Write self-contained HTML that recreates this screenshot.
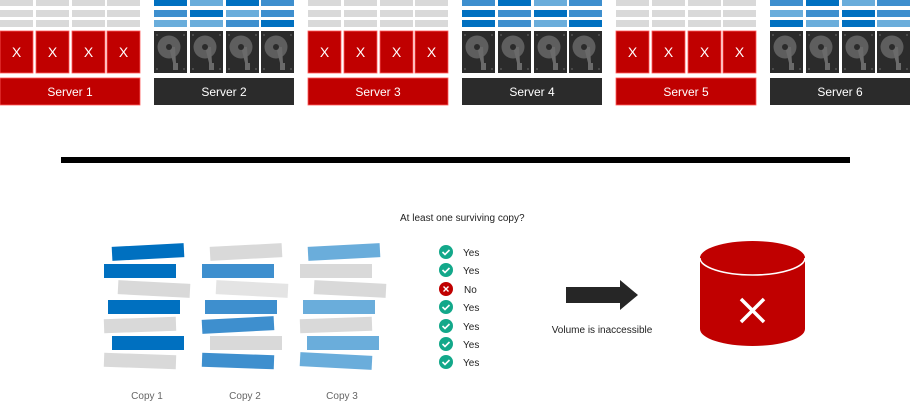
<!DOCTYPE html>
<html><head><meta charset="utf-8"><style>
html,body{margin:0;padding:0;background:#fff;width:910px;height:408px;overflow:hidden}
svg{display:block;font-family:"Liberation Sans","DejaVu Sans",sans-serif}
</style></head><body>
<svg width="910" height="408" viewBox="0 0 910 408" xmlns="http://www.w3.org/2000/svg">
<defs>
<g id="disk">
<rect x="0" y="0" width="33" height="42" fill="#2b2b2b"/>
<circle cx="3" cy="4" r="1" fill="#555"/><circle cx="30" cy="4" r="1" fill="#555"/>
<circle cx="3" cy="38" r="1" fill="#555"/><circle cx="30" cy="38" r="1" fill="#555"/>
<circle cx="15" cy="16" r="11.5" fill="#5e5e5e"/>
<path d="M15 16 L21 16 L22 32 L24 32 L24 39 L19 39 L19 32 Z" fill="#6a6a6a"/>
<circle cx="15" cy="16" r="3" fill="#2b2b2b"/>
</g>
<g id="xdisk">
<rect x="0" y="0" width="33" height="42" fill="#c00000" stroke="#ff5a5a" stroke-width="0.8"/>
<text x="16.5" y="26" font-size="14" fill="#fff" text-anchor="middle">X</text>
</g>
</defs>
<!-- servers -->
<g id="servers">
<!-- Server 1 -->
<g transform="translate(0,0)">
<g fill="#d9d9d9"><rect x="0" y="0" width="33" height="6"/><rect x="36" y="0" width="33" height="6"/><rect x="72" y="0" width="33" height="6"/><rect x="107" y="0" width="33" height="6"/>
<rect x="0" y="10" width="33" height="7"/><rect x="36" y="10" width="33" height="7"/><rect x="72" y="10" width="33" height="7"/><rect x="107" y="10" width="33" height="7"/>
<rect x="0" y="20" width="33" height="7"/><rect x="36" y="20" width="33" height="7"/><rect x="72" y="20" width="33" height="7"/><rect x="107" y="20" width="33" height="7"/></g>
<use href="#xdisk" x="0" y="31"/><use href="#xdisk" x="36" y="31"/><use href="#xdisk" x="72" y="31"/><use href="#xdisk" x="107" y="31"/>
<rect x="0" y="78" width="140" height="27" fill="#c00000" stroke="#ff5a5a" stroke-width="0.8"/>
<text x="70" y="96" font-size="12" fill="#fff" text-anchor="middle">Server 1</text>
</g>
<!-- Server 2 -->
<g transform="translate(154,0)">
<rect x="0" y="0" width="33" height="6" fill="#0070c0"/><rect x="36" y="0" width="33" height="6" fill="#6aaddb"/><rect x="72" y="0" width="33" height="6" fill="#0070c0"/><rect x="107" y="0" width="33" height="6" fill="#3e8fce"/>
<rect x="0" y="10" width="33" height="7" fill="#3e8fce"/><rect x="36" y="10" width="33" height="7" fill="#0070c0"/><rect x="72" y="10" width="33" height="7" fill="#6aaddb"/><rect x="107" y="10" width="33" height="7" fill="#3e8fce"/>
<rect x="0" y="20" width="33" height="7" fill="#6aaddb"/><rect x="36" y="20" width="33" height="7" fill="#6aaddb"/><rect x="72" y="20" width="33" height="7" fill="#3e8fce"/><rect x="107" y="20" width="33" height="7" fill="#0070c0"/>
<use href="#disk" x="0" y="31"/><use href="#disk" x="36" y="31"/><use href="#disk" x="72" y="31"/><use href="#disk" x="107" y="31"/>
<rect x="0" y="78" width="140" height="27" fill="#2b2b2b"/>
<text x="70" y="96" font-size="12" fill="#fff" text-anchor="middle">Server 2</text>
</g>
<!-- Server 3 -->
<g transform="translate(308,0)">
<g fill="#d9d9d9"><rect x="0" y="0" width="33" height="6"/><rect x="36" y="0" width="33" height="6"/><rect x="72" y="0" width="33" height="6"/><rect x="107" y="0" width="33" height="6"/>
<rect x="0" y="10" width="33" height="7"/><rect x="36" y="10" width="33" height="7"/><rect x="72" y="10" width="33" height="7"/><rect x="107" y="10" width="33" height="7"/>
<rect x="0" y="20" width="33" height="7"/><rect x="36" y="20" width="33" height="7"/><rect x="72" y="20" width="33" height="7"/><rect x="107" y="20" width="33" height="7"/></g>
<use href="#xdisk" x="0" y="31"/><use href="#xdisk" x="36" y="31"/><use href="#xdisk" x="72" y="31"/><use href="#xdisk" x="107" y="31"/>
<rect x="0" y="78" width="140" height="27" fill="#c00000" stroke="#ff5a5a" stroke-width="0.8"/>
<text x="70" y="96" font-size="12" fill="#fff" text-anchor="middle">Server 3</text>
</g>
<!-- Server 4 -->
<g transform="translate(462,0)">
<rect x="0" y="0" width="33" height="6" fill="#3e8fce"/><rect x="36" y="0" width="33" height="6" fill="#0070c0"/><rect x="72" y="0" width="33" height="6" fill="#6aaddb"/><rect x="107" y="0" width="33" height="6" fill="#3e8fce"/>
<rect x="0" y="10" width="33" height="7" fill="#0070c0"/><rect x="36" y="10" width="33" height="7" fill="#3e8fce"/><rect x="72" y="10" width="33" height="7" fill="#0070c0"/><rect x="107" y="10" width="33" height="7" fill="#3e8fce"/>
<rect x="0" y="20" width="33" height="7" fill="#0070c0"/><rect x="36" y="20" width="33" height="7" fill="#3e8fce"/><rect x="72" y="20" width="33" height="7" fill="#6aaddb"/><rect x="107" y="20" width="33" height="7" fill="#0070c0"/>
<use href="#disk" x="0" y="31"/><use href="#disk" x="36" y="31"/><use href="#disk" x="72" y="31"/><use href="#disk" x="107" y="31"/>
<rect x="0" y="78" width="140" height="27" fill="#2b2b2b"/>
<text x="70" y="96" font-size="12" fill="#fff" text-anchor="middle">Server 4</text>
</g>
<!-- Server 5 -->
<g transform="translate(616,0)">
<g fill="#d9d9d9"><rect x="0" y="0" width="33" height="6"/><rect x="36" y="0" width="33" height="6"/><rect x="72" y="0" width="33" height="6"/><rect x="107" y="0" width="33" height="6"/>
<rect x="0" y="10" width="33" height="7"/><rect x="36" y="10" width="33" height="7"/><rect x="72" y="10" width="33" height="7"/><rect x="107" y="10" width="33" height="7"/>
<rect x="0" y="20" width="33" height="7"/><rect x="36" y="20" width="33" height="7"/><rect x="72" y="20" width="33" height="7"/><rect x="107" y="20" width="33" height="7"/></g>
<use href="#xdisk" x="0" y="31"/><use href="#xdisk" x="36" y="31"/><use href="#xdisk" x="72" y="31"/><use href="#xdisk" x="107" y="31"/>
<rect x="0" y="78" width="140" height="27" fill="#c00000" stroke="#ff5a5a" stroke-width="0.8"/>
<text x="70" y="96" font-size="12" fill="#fff" text-anchor="middle">Server 5</text>
</g>
<!-- Server 6 -->
<g transform="translate(770,0)">
<rect x="0" y="0" width="33" height="6" fill="#3e8fce"/><rect x="36" y="0" width="33" height="6" fill="#0070c0"/><rect x="72" y="0" width="33" height="6" fill="#6aaddb"/><rect x="107" y="0" width="33" height="6" fill="#3e8fce"/>
<rect x="0" y="10" width="33" height="7" fill="#6aaddb"/><rect x="36" y="10" width="33" height="7" fill="#3e8fce"/><rect x="72" y="10" width="33" height="7" fill="#0070c0"/><rect x="107" y="10" width="33" height="7" fill="#3e8fce"/>
<rect x="0" y="20" width="33" height="7" fill="#0070c0"/><rect x="36" y="20" width="33" height="7" fill="#6aaddb"/><rect x="72" y="20" width="33" height="7" fill="#0070c0"/><rect x="107" y="20" width="33" height="7" fill="#6aaddb"/>
<use href="#disk" x="0" y="31"/><use href="#disk" x="36" y="31"/><use href="#disk" x="72" y="31"/><use href="#disk" x="107" y="31"/>
<rect x="0" y="78" width="140" height="27" fill="#2b2b2b"/>
<text x="70" y="96" font-size="12" fill="#fff" text-anchor="middle">Server 6</text>
</g>
</g>
<!-- divider -->
<rect x="61" y="157" width="789" height="6" fill="#000"/>
<!-- copy 1 -->
<g>
<rect x="112" y="245" width="72" height="14" fill="#0070c0" transform="rotate(-3 148 252)"/>
<rect x="104" y="264" width="72" height="14" fill="#0070c0"/>
<rect x="118" y="282" width="72" height="14" fill="#d9d9d9" transform="rotate(3 154 289)"/>
<rect x="108" y="300" width="72" height="14" fill="#0070c0"/>
<rect x="104" y="318" width="72" height="14" fill="#d9d9d9" transform="rotate(-2 140 325)"/>
<rect x="112" y="336" width="72" height="14" fill="#0070c0"/>
<rect x="104" y="354" width="72" height="14" fill="#d9d9d9" transform="rotate(2 140 361)"/>
</g>
<!-- copy 2 -->
<g>
<rect x="210" y="245" width="72" height="14" fill="#d9d9d9" transform="rotate(-3 246 252)"/>
<rect x="202" y="264" width="72" height="14" fill="#3e8fce"/>
<rect x="216" y="282" width="72" height="14" fill="#e4e4e4" transform="rotate(3 252 289)"/>
<rect x="205" y="300" width="72" height="14" fill="#3e8fce"/>
<rect x="202" y="318" width="72" height="14" fill="#3e8fce" transform="rotate(-3 238 325)"/>
<rect x="210" y="336" width="72" height="14" fill="#d9d9d9"/>
<rect x="202" y="354" width="72" height="14" fill="#3e8fce" transform="rotate(2 238 361)"/>
</g>
<!-- copy 3 -->
<g>
<rect x="308" y="245" width="72" height="14" fill="#6aaddb" transform="rotate(-3 344 252)"/>
<rect x="300" y="264" width="72" height="14" fill="#d9d9d9"/>
<rect x="314" y="282" width="72" height="14" fill="#d9d9d9" transform="rotate(3 350 289)"/>
<rect x="303" y="300" width="72" height="14" fill="#6aaddb"/>
<rect x="300" y="318" width="72" height="14" fill="#d9d9d9" transform="rotate(-2 336 325)"/>
<rect x="307" y="336" width="72" height="14" fill="#6aaddb"/>
<rect x="300" y="354" width="72" height="14" fill="#6aaddb" transform="rotate(3 336 361)"/>
</g>
<g font-size="10" fill="#666" text-anchor="middle">
<text x="147" y="399">Copy 1</text><text x="245" y="399">Copy 2</text><text x="342" y="399">Copy 3</text>
</g>
<text x="400" y="221" font-size="10" fill="#222">At least one surviving copy?</text>
<!-- checks -->
<g font-size="10" fill="#222">
<g transform="translate(446,252)"><circle r="7" fill="#13a88a"/><path d="M-3.5 0 L-1 2.5 L3.5 -2" stroke="#fff" stroke-width="1.6" fill="none"/></g><text x="463" y="256">Yes</text>
<g transform="translate(446,270)"><circle r="7" fill="#13a88a"/><path d="M-3.5 0 L-1 2.5 L3.5 -2" stroke="#fff" stroke-width="1.6" fill="none"/></g><text x="463" y="274">Yes</text>
<g transform="translate(446,289)"><circle r="7" fill="#c00000"/><path d="M-2.5 -2.5 L2.5 2.5 M2.5 -2.5 L-2.5 2.5" stroke="#fff" stroke-width="1.4"/></g><text x="464" y="293">No</text>
<g transform="translate(446,307)"><circle r="7" fill="#13a88a"/><path d="M-3.5 0 L-1 2.5 L3.5 -2" stroke="#fff" stroke-width="1.6" fill="none"/></g><text x="463" y="311">Yes</text>
<g transform="translate(446,326)"><circle r="7" fill="#13a88a"/><path d="M-3.5 0 L-1 2.5 L3.5 -2" stroke="#fff" stroke-width="1.6" fill="none"/></g><text x="463" y="330">Yes</text>
<g transform="translate(446,344)"><circle r="7" fill="#13a88a"/><path d="M-3.5 0 L-1 2.5 L3.5 -2" stroke="#fff" stroke-width="1.6" fill="none"/></g><text x="463" y="348">Yes</text>
<g transform="translate(446,362)"><circle r="7" fill="#13a88a"/><path d="M-3.5 0 L-1 2.5 L3.5 -2" stroke="#fff" stroke-width="1.6" fill="none"/></g><text x="463" y="366">Yes</text>
</g>
<!-- arrow -->
<path d="M566 287 L620 287 L620 280 L638 295 L620 310 L620 303 L566 303 Z" fill="#262626"/>
<text x="602" y="333" font-size="10" fill="#222" text-anchor="middle">Volume is inaccessible</text>
<!-- cylinder -->
<path d="M700 258 L700 329 A52.5 17 0 0 0 805 329 L805 258 Z" fill="#c00000"/>
<ellipse cx="752.5" cy="258" rx="52.5" ry="17" fill="#c00000"/>
<path d="M700 258 A52.5 17 0 0 0 805 258" stroke="#fff" stroke-width="1.5" fill="none"/>
<path d="M741 299 L764 322 M764 299 L741 322" stroke="#fff" stroke-width="3.5"/>
</svg>
</body></html>
